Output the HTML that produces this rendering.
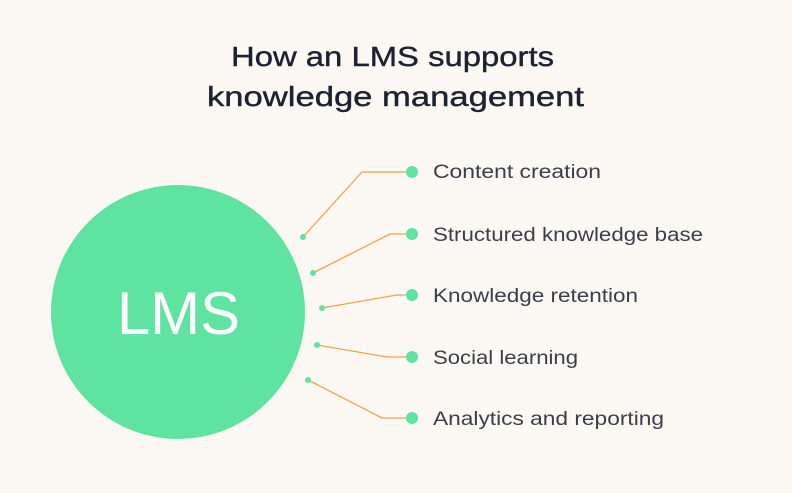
<!DOCTYPE html>
<html><head><style>
body{margin:0;width:792px;height:493px;background:#fcf8f4;overflow:hidden;font-family:"Liberation Sans",sans-serif}
svg{position:absolute;left:0;top:0}
</style></head><body>
<svg width="792" height="493">
<text x="231" y="66" textLength="323" lengthAdjust="spacingAndGlyphs" font-size="28" fill="#1d2230" stroke="#1d2230" stroke-width="0.4" font-family="Liberation Sans">How an LMS supports</text>
<text x="207" y="106" textLength="377" lengthAdjust="spacingAndGlyphs" font-size="28" fill="#1d2230" stroke="#1d2230" stroke-width="0.4" font-family="Liberation Sans">knowledge management</text>
<circle cx="178" cy="312" r="127" fill="#5fe3a1"/>
<text x="117" y="334" textLength="123" lengthAdjust="spacingAndGlyphs" font-size="60" fill="#fff" font-family="Liberation Sans">LMS</text>
<g stroke="#f7a04a" stroke-width="1.3" fill="none">
<polyline points="303,237 362,172 412,172"/>
<polyline points="313,273 390,234 412,234"/>
<polyline points="322,308 397,295 412,295"/>
<polyline points="317,345 387,357 412,357"/>
<polyline points="308,380 382,418 412,418"/>
</g>
<g fill="#5fe3a1">
<circle cx="303" cy="237" r="3"/><circle cx="313" cy="273" r="3"/><circle cx="322" cy="308" r="3"/><circle cx="317" cy="345" r="3"/><circle cx="308" cy="380" r="3"/>
<circle cx="412" cy="172" r="6"/><circle cx="412" cy="234" r="6"/><circle cx="412" cy="295" r="6"/><circle cx="412" cy="357" r="6"/><circle cx="412" cy="418" r="6"/>
</g>
<g font-size="19" fill="#3a3f4a" font-family="Liberation Sans" lengthAdjust="spacingAndGlyphs">
<text x="433" y="178" textLength="168" lengthAdjust="spacingAndGlyphs">Content creation</text>
<text x="433" y="241" textLength="270" lengthAdjust="spacingAndGlyphs">Structured knowledge base</text>
<text x="433" y="302" textLength="205" lengthAdjust="spacingAndGlyphs">Knowledge retention</text>
<text x="433" y="364" textLength="145" lengthAdjust="spacingAndGlyphs">Social learning</text>
<text x="433" y="425" textLength="231" lengthAdjust="spacingAndGlyphs">Analytics and reporting</text>
</g>
</svg>
</body></html>
